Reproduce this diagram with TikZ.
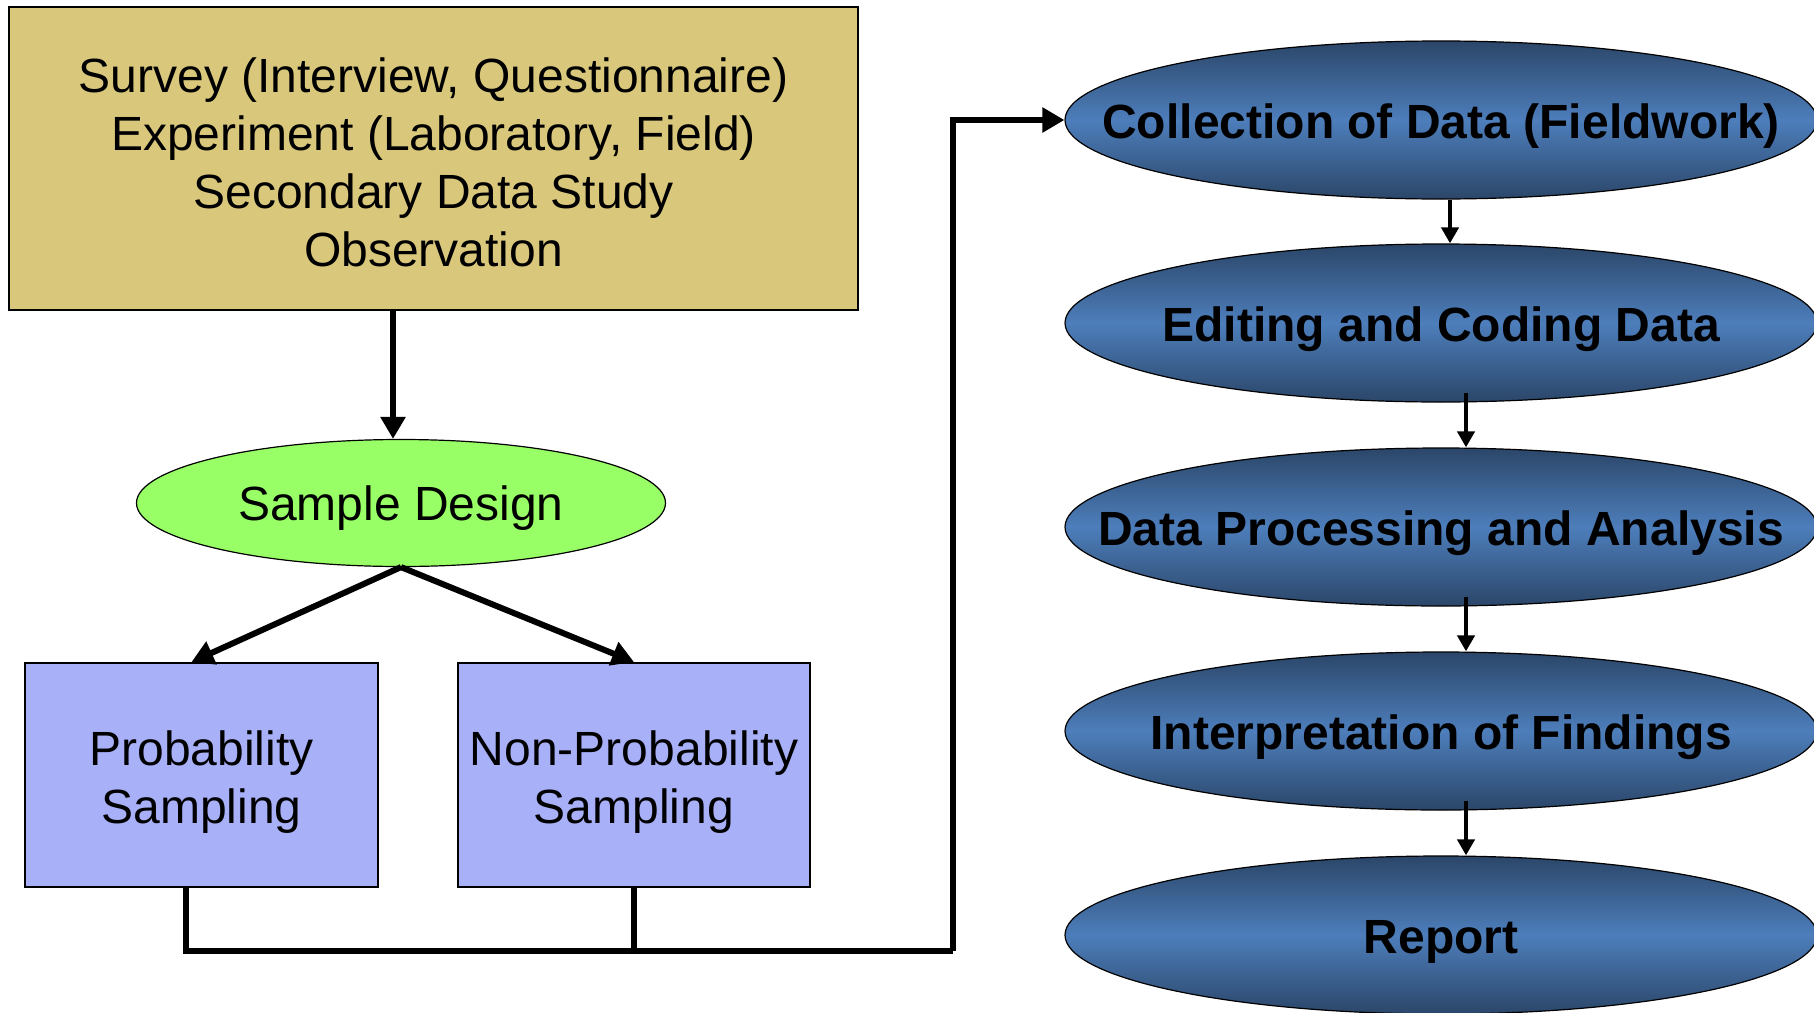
\documentclass[tikz,border=0pt]{standalone}
\usepackage{fontspec}
\setmainfont{Liberation Sans}
\usetikzlibrary{shapes.geometric,arrows.meta}
\definecolor{surveytan}{HTML}{D9C87C}
\definecolor{designgreen}{HTML}{99FF66}
\definecolor{samplelilac}{HTML}{A8B0F8}
\definecolor{stagedark}{HTML}{2B4669}
\definecolor{stagelight}{HTML}{4D7EBB}
\newcommand{\lowtext}[2][8pt]{\raisebox{0pt}[\dimexpr\height+#1\relax][\depth]{\begin{tabular}{@{}c@{}}#2\end{tabular}}}
\newcommand{\stagetext}[1]{\makebox[0pt]{\raisebox{0pt}[\dimexpr\height+6.5pt\relax][\depth]{#1}}}

\begin{document}
\begin{tikzpicture}[x=0.5pt, y=-0.5pt,
        txt/.style={font=\fontsize{24}{29}\selectfont, align=center},
        flowbox/.style={txt, draw, line width=1pt, inner sep=0pt},
        stage/.style={ellipse, draw, line width=0.6pt, inner sep=0pt,
            minimum width=376pt, minimum height=79pt,
            top color=stagedark, bottom color=stagedark, middle color=stagelight,
            font=\fontsize{24}{29}\selectfont\bfseries},
        link/.style={line width=3pt, -{Triangle[length=11pt,width=12pt]}},
        joinline/.style={line width=3pt},
        stagelink/.style={line width=2.2pt, -{Triangle[length=8pt,width=8.5pt]}}]
    \useasboundingbox (0,0) rectangle (1814,1012);
    \node[flowbox, fill=surveytan, minimum width=424.5pt, minimum height=151.5pt] (survey) at (433.5,158.5)
        {\lowtext[9.5pt]{Survey (Interview, Questionnaire)\\Experiment (Laboratory, Field)\\Secondary Data Study\\Observation}};
    \node[txt, ellipse, draw, line width=0.6pt, inner sep=0pt, fill=designgreen,
        minimum width=264.5pt, minimum height=63.5pt] (design) at (401,503) {\lowtext[6pt]{Sample Design}};
    \node[flowbox, fill=samplelilac, minimum width=176.5pt, minimum height=112pt] (prob) at (201.5,775)
        {\lowtext{Probability\\Sampling}};
    \node[flowbox, fill=samplelilac, minimum width=176pt, minimum height=112pt] (nonprob) at (634,775)
        {\lowtext{Non-Probability\\Sampling}};
    \node[stage] (collect) at (1441,120) {\stagetext{Collection of Data (Fieldwork)}};
    \node[stage] (edit) at (1441,323) {\stagetext{Editing and Coding Data}};
    \node[stage] (process) at (1441,527) {\stagetext{Data Processing and Analysis}};
    \node[stage] (interpret) at (1441,731) {\stagetext{Interpretation of Findings}};
    \node[stage] (report) at (1441,935) {\stagetext{Report}};
    \coordinate (join) at (953,951);
    \draw[link] ([xshift=-4pt]survey.south -| design.north) -- ([xshift=-4pt]design.north);
    \draw[link] (design.south) -- ([xshift=-5pt]prob.north);
    \draw[link] (design.south) -- (nonprob.north);
    \draw[joinline] ([xshift=-8pt]prob.south) |- (join);
    \draw[joinline] (nonprob.south) -- (nonprob.south |- join);
    \draw[link] (join) |- (collect.west);
    \draw[stagelink] ([xshift=4.5pt]collect.south) -- ([xshift=4.5pt]edit.north);
    \draw[stagelink] ([xshift=12.5pt,yshift=5pt]edit.south) -- ([xshift=12.5pt]process.north);
    \draw[stagelink] ([xshift=12.5pt,yshift=5pt]process.south) -- ([xshift=12.5pt]interpret.north);
    \draw[stagelink] ([xshift=12.5pt,yshift=5pt]interpret.south) -- ([xshift=12.5pt]report.north);
\end{tikzpicture}
\end{document}
